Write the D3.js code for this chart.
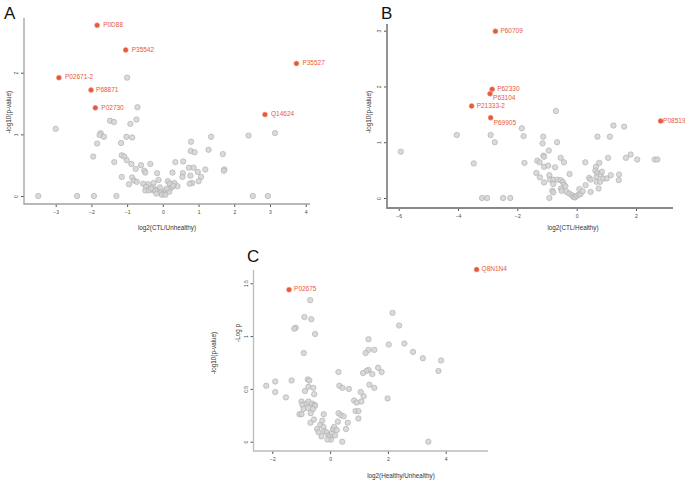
<!DOCTYPE html>
<html>
<head>
<meta charset="utf-8">
<script src="https://cdn.jsdelivr.net/npm/d3@7"></script>
<style>
  body { margin: 0; background: #fff; }
  svg { display: block; font-family: "Liberation Sans", Arial, sans-serif; }
  .tick text { font-size: 5px; fill: #444; }
  .tick line { stroke: #555; }
</style>
</head>
<body>
<div id="chart"></div>
<script>
// Panel A: log2(CTL/Unhealthy)
const aSigIds = ["P0D88", "P35542", "P35527", "P02671-2", "P68871", "P02730", "Q14624"];
const aSigX = [-1.84, -1.04, 3.74, -2.91, -2.01, -1.89, 2.86];
const aSigY = [2.77, 2.37, 2.15, 1.92, 1.72, 1.43, 1.32];
const aX = [-1.00, -0.71, -0.74, -0.91, -1.48, -1.37, -3.00, -1.74, -1.77, -1.65, -1.02, -0.86, -1.84, -1.17, -1.95,
  -1.36, -1.15, -1.08, -1.01, -0.88, -0.61, -0.76, -0.35, -0.52, -0.49, -0.16, -1.15, -0.86, -0.95, -0.81, -0.73,
  0.79, 1.35, 0.78, 0.89, 1.28, 1.68, 2.40, 3.14, 0.35, 0.57, 0.73, 0.86, 0.27, 0.56, 0.77, 0.98, 1.07, 1.19, 1.72,
  1.71, 0.55, 1.00, 0.82, 0.75, 0.41, 0.32, 0.14, 0.19, -0.12, -0.26, -0.42, -0.55, -0.47, -0.28, -0.49, -0.39,
  -0.26, -0.15, -0.05, 0.01, 0.07, 0.08, 0.18, 0.25, 0.29, -0.03, 0.07, 0.18, -0.22, -0.33, -0.08, 0.11, -0.18,
  -3.49, -2.40, -1.93, -1.30, 2.52, 2.94];
const aY = [1.92, 1.44, 1.24, 1.17, 1.22, 1.20, 1.09, 1.02, 0.99, 0.96, 0.96, 0.95, 0.85, 0.86, 0.64,
  0.55, 0.66, 0.64, 0.58, 0.52, 0.50, 0.44, 0.52, 0.41, 0.38, 0.37, 0.31, 0.30, 0.19, 0.25, 0.23,
  0.88, 0.96, 0.73, 0.71, 0.75, 0.68, 0.98, 1.02, 0.55, 0.56, 0.46, 0.46, 0.38, 0.37, 0.33, 0.39, 0.31, 0.43, 0.43,
  0.41, 0.31, 0.24, 0.21, 0.20, 0.16, 0.21, 0.24, 0.20, 0.26, 0.21, 0.19, 0.20, 0.15, 0.14, 0.09, 0.09,
  0.09, 0.10, 0.06, 0.04, 0.06, 0.09, 0.11, 0.14, 0.17, 0.02, 0.02, 0.07, 0.09, 0.12, 0.14, 0.12, 0.04,
  0, 0, 0, 0, 0, 0];
const aXTicks = [-3, -2, -1, 0, 1, 2, 3, 4];
const aYTicks = [0, 1, 2];

// Panel B: log2(CTL/Healthy)
const bSigIds = ["P60709", "P62330", "P63104", "P21333-2", "P69905", "P08519"];
const bSigX = [-2.74, -2.85, -2.92, -3.54, -2.90, 2.83];
const bSigY = [2.99, 1.95, 1.87, 1.65, 1.44, 1.38];
const bX = [-5.93, -4.04, -3.47, -2.90, -2.76, -1.85, -1.79, -0.70, -1.76, -1.13, -1.15, -0.66, -0.94, -1.12, -1.10,
  -1.33, -1.25, -1.10, -0.96, -0.73, -0.54, -0.43, -0.24, -1.36, -1.24, -0.92, -0.90, -1.10, -0.79, -0.65, -0.54,
  -0.79, -0.47, -0.43, -0.38, -0.53, -0.51, -0.82, -0.79, -0.92, -0.34, -0.25, -0.16, -0.11, -0.06, 0.00, 0.07,
  0.13, 0.09, 0.20, 0.30, 0.47, 0.42, 0.47, 0.29, 0.65, 0.63, 0.70, 0.76, 0.67, 0.80, 0.85, 0.67, 0.79, 0.74,
  0.90, 1.01, 1.15, 1.43, 1.42, 1.06, 1.66, 1.82, 2.04, 2.63, 2.72, 0.70, 1.12, 1.24, 1.60,
  -3.19, -3.02, -2.48, -2.24];
const bY = [0.83, 1.13, 0.62, 1.13, 1.00, 1.25, 1.11, 1.56, 0.63, 1.10, 0.98, 1.00, 0.85, 0.76, 0.74,
  0.67, 0.64, 0.56, 0.58, 0.55, 0.72, 0.64, 0.43, 0.45, 0.37, 0.41, 0.33, 0.28, 0.33, 0.33, 0.32,
  0.25, 0.29, 0.24, 0.21, 0.17, 0.13, 0.13, 0.10, 0.00, 0.11, 0.08, 0.05, 0.02, 0.01, 0.04, 0.06,
  0.07, 0.16, 0.12, 0.23, 0.11, 0.36, 0.33, 0.64, 0.56, 0.49, 0.45, 0.63, 0.38, 0.42, 0.47, 0.29, 0.29, 0.17,
  0.35, 0.35, 0.41, 0.42, 0.32, 0.72, 0.72, 0.78, 0.69, 0.69, 0.69, 1.10, 1.10, 1.30, 1.28,
  0, 0, 0, 0];
const bXTicks = [-6, -4, -2, 0, 2];
const bYTicks = [0, 1, 2, 3];

// Panel C: log2(Healthy/Unhealthy)
const cSigIds = ["P02675", "Q8N1N4"];
const cSigX = [-1.42, 5.07];
const cSigY = [1.44, 1.63];
const cX = [-0.69, -0.89, -0.65, -1.19, -1.24, -0.52, -0.91, 2.16, 2.39, 2.57, 2.03, 1.33, 1.33, 1.53, 1.23, 2.87,
  3.21, 3.84, 3.75, 1.66, 1.78, 1.33, 1.26, 1.14, 1.46, 0.29, -2.21, -1.90, -1.90, -1.53, -1.33, -0.77, -0.72,
  -0.75, -0.58, -0.87, -0.55, -0.99, -0.96, -0.81, -0.75, -0.62, -0.54, -0.52, -0.92, -0.76, -1.06, -0.99, -0.67,
  -0.59, 0.32, 0.43, 0.65, 1.06, 1.16, 0.83, 0.92, 1.08, 0.88, 0.98, 0.98, 1.36, 1.53, 1.99, -0.22, 0.29, 0.38,
  0.47, 0.61, 0.55, 0.27, -0.68, -0.56, -0.34, -0.27, -0.23, -0.45, -0.40, -0.20, -0.12, -0.06, 0.00, 0.06, 0.10,
  0.14, 0.23, 0.03, -0.09, 0.42, 3.40, 0.17, -0.30];
const cY = [1.34, 1.18, 1.16, 1.08, 1.07, 1.02, 0.84, 1.22, 1.10, 0.93, 0.92, 0.97, 0.87, 0.87, 0.84, 0.85,
  0.79, 0.77, 0.67, 0.70, 0.66, 0.68, 0.67, 0.65, 0.64, 0.66, 0.53, 0.57, 0.47, 0.42, 0.58, 0.59, 0.58,
  0.52, 0.51, 0.48, 0.45, 0.38, 0.35, 0.36, 0.38, 0.36, 0.35, 0.34, 0.31, 0.32, 0.26, 0.26, 0.27,
  0.31, 0.53, 0.51, 0.50, 0.47, 0.43, 0.39, 0.37, 0.38, 0.29, 0.29, 0.22, 0.54, 0.51, 0.41, 0.26, 0.27, 0.25,
  0.24, 0.18, 0.12, 0.19, 0.18, 0.21, 0.16, 0.20, 0.14, 0.12, 0.09, 0.10, 0.09, 0.06, 0.05, 0.08, 0.12,
  0.14, 0.11, 0.02, 0.02, 0.00, 0.00, 0.06, 0.05];
const cXTicks = [-2, 0, 2, 4];
const cYTicks = [0, 0.5, 1, 1.5];

const width = 685;
const height = 481;
const red = "#e8583c";

const svg = d3.select("#chart")
  .append("svg")
  .attr("width", width)
  .attr("height", height);

// layout per panel (pixel placement of the panel, not data)
const panels = [
  {
    letter: "A", letterPos: [4, 19],
    xs: aX, ys: aY, sigIds: aSigIds, sigX: aSigX, sigY: aSigY,
    xTicks: aXTicks, yTicks: aYTicks,
    xDom: [-3, 4], xRange: [55.7, 305.7], yDom: [0, 2], yRange: [196, 72.7],
    frame: { x0: 24, x1: 310, y0: 18, y1: 204 },
    xLabel: "log2(CTL/Unhealthy)", xLabelPos: [167, 230],
    yLabels: [{ text: "-log10(p-value)", x: 9, y: 112 }],
    offsets: [[6, 0], [6, 0], [6, 0], [6, 0], [5, 0], [6, 0], [6, 0]],
    axisColor: "#a0a0a0", axisWidth: 1.3
  },
  {
    letter: "B", letterPos: [381, 19],
    xs: bX, ys: bY, sigIds: bSigIds, sigX: bSigX, sigY: bSigY,
    xTicks: bXTicks, yTicks: bYTicks,
    xDom: [-6, 2], xRange: [398.7, 636], yDom: [0, 3], yRange: [198, 30.7],
    frame: { x0: 387, x1: 673, y0: 24, y1: 208 },
    xLabel: "log2(CTL/Healthy)", xLabelPos: [573, 230],
    yLabels: [{ text: "-log10(p-value)", x: 369, y: 112 }],
    offsets: [[5, 0], [5, 0], [3, 5], [5, 0], [3, 6], [2.5, 0]],
    axisColor: "#888", axisWidth: 1.8
  },
  {
    letter: "C", letterPos: [247, 262],
    xs: cX, ys: cY, sigIds: cSigIds, sigX: cSigX, sigY: cSigY,
    xTicks: cXTicks, yTicks: cYTicks,
    xDom: [-2, 4], xRange: [272.3, 445.7], yDom: [0, 1.5], yRange: [441.7, 283.3],
    frame: { x0: 253.5, x1: 488, y0: 270, y1: 451 },
    xLabel: "log2(Healthy/Unhealthy)", xLabelPos: [401, 478],
    yLabels: [{ text: "-log10(p-value)", x: 214, y: 353 }, { text: "-Log p", x: 238, y: 333 }],
    offsets: [[5, 0], [5, 0]],
    axisColor: "#bbb", axisWidth: 1.3
  }
];

panels.forEach(p => {
  const x = d3.scaleLinear().domain(p.xDom).range(p.xRange);
  const y = d3.scaleLinear().domain(p.yDom).range(p.yRange);
  const g = svg.append("g");
  const f = p.frame;

  // panel letter
  g.append("text")
    .attr("x", p.letterPos[0])
    .attr("y", p.letterPos[1])
    .attr("font-size", 17)
    .attr("fill", "#111")
    .text(p.letter);

  // x axis
  const xAxis = g.append("g")
    .attr("transform", `translate(0,${f.y1})`)
    .call(d3.axisBottom(x).tickValues(p.xTicks).tickSize(3).tickSizeOuter(0).tickPadding(3)
      .tickFormat(d3.format("")));
  xAxis.select(".domain").remove();

  // y axis, tick labels turned sideways
  const yAxis = g.append("g")
    .attr("transform", `translate(${f.x0},0)`)
    .call(d3.axisLeft(y).tickValues(p.yTicks).tickSize(3).tickSizeOuter(0)
      .tickFormat(d3.format("")));
  yAxis.select(".domain").remove();
  yAxis.selectAll(".tick text")
    .attr("x", 0).attr("dy", null)
    .attr("text-anchor", "middle")
    .attr("transform", "translate(-6,0) rotate(-90)");

  // axis lines
  g.append("line")
    .attr("x1", f.x0).attr("x2", f.x0).attr("y1", f.y0).attr("y2", f.y1 + p.axisWidth / 2)
    .attr("stroke", p.axisColor).attr("stroke-width", p.axisWidth);
  g.append("line")
    .attr("x1", f.x0).attr("x2", f.x1).attr("y1", f.y1).attr("y2", f.y1)
    .attr("stroke", p.axisColor).attr("stroke-width", p.axisWidth);

  // axis titles
  g.append("text")
    .attr("x", p.xLabelPos[0]).attr("y", p.xLabelPos[1])
    .attr("text-anchor", "middle")
    .attr("font-size", 6.3)
    .attr("fill", "#333")
    .text(p.xLabel);

  p.yLabels.forEach(l => {
    g.append("text")
      .attr("transform", `translate(${l.x},${l.y}) rotate(-90)`)
      .attr("text-anchor", "middle")
      .attr("dominant-baseline", "middle")
      .attr("font-size", 6.3)
      .attr("fill", "#333")
      .text(l.text);
  });

  // grey points
  const pts = p.xs.map((v, i) => ({ x: v, y: p.ys[i] }));
  g.append("g")
    .selectAll("circle")
    .data(pts)
    .enter().append("circle")
    .attr("cx", d => x(d.x))
    .attr("cy", d => y(d.y))
    .attr("r", 2.7)
    .attr("fill", "#d4d4d4")
    .attr("fill-opacity", 0.85)
    .attr("stroke", "#a9a9a9")
    .attr("stroke-width", 0.6);

  // significant points
  const sig = p.sigIds.map((id, i) => ({ id, x: p.sigX[i], y: p.sigY[i], off: p.offsets[i] }));
  g.append("g")
    .selectAll("circle")
    .data(sig)
    .enter().append("circle")
    .attr("cx", d => x(d.x))
    .attr("cy", d => y(d.y))
    .attr("r", 2.5)
    .attr("fill", red)
    .attr("stroke", "#f09a85")
    .attr("stroke-width", 0.6);

  g.append("g")
    .selectAll("text")
    .data(sig)
    .enter().append("text")
    .attr("x", d => x(d.x) + d.off[0])
    .attr("y", d => y(d.y) + d.off[1])
    .attr("dominant-baseline", "middle")
    .attr("font-size", 6.5)
    .attr("fill", red)
    .text(d => d.id);
});
</script>
</body>
</html>
